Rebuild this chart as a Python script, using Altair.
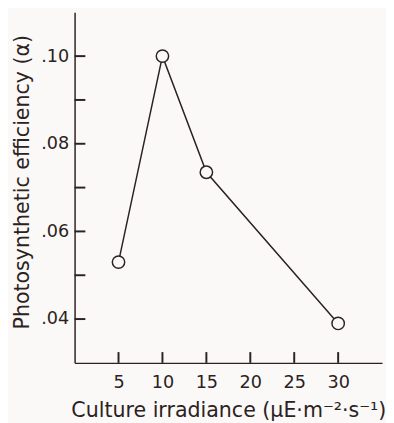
import altair as alt
import pandas as pd

irradiance = [5, 10, 15, 30]
efficiency = [0.053, 0.100, 0.0735, 0.039]

y_tick_values = [0.04, 0.05, 0.06, 0.07, 0.08, 0.09, 0.10]
y_label_values = [0.04, 0.06, 0.08, 0.10]
x_tick_values = [5, 10, 15, 20, 25, 30]

INK = "#2b2222"
BG = "#fbf9f7"
W, H = 314, 358
FONT = "DejaVu Sans"
TICK = 11

df = pd.DataFrame({"x": irradiance, "y": efficiency})
yt = pd.DataFrame({"yv": y_tick_values})
xt = pd.DataFrame({"xv": x_tick_values})

xscale = alt.Scale(domain=[0, 35], nice=False, zero=False)
yscale = alt.Scale(domain=[0.03, 0.11], nice=False, zero=False)

xaxis = alt.Axis(
    values=x_tick_values, ticks=False, grid=False,
    labelPadding=11, labelFontSize=18, labelFont=FONT, labelColor=INK,
    domainColor=INK, domainWidth=1.5,
    title="Culture irradiance (μE·m⁻²·s⁻¹)", titleFontSize=21, titleFont=FONT,
    titleFontWeight="normal", titleColor=INK, titlePadding=9,
)
yaxis = alt.Axis(
    values=y_label_values, ticks=False, grid=False,
    labelPadding=6, labelFontSize=18, labelFont=FONT, labelColor=INK,
    labelExpr="replace(format(datum.value, '.2f'), '0.', '.')",
    domainColor=INK, domainWidth=1.5,
    title="Photosynthetic efficiency (α)", titleFontSize=21, titleFont=FONT,
    titleFontWeight="normal", titleColor=INK, titlePadding=8, titleY=173,
)

line = alt.Chart(df).mark_line(color=INK, strokeWidth=1.5).encode(
    x=alt.X("x:Q", scale=xscale, axis=xaxis),
    y=alt.Y("y:Q", scale=yscale, axis=yaxis),
)
# inward-pointing ticks
yticks = alt.Chart(yt).mark_rule(color=INK, strokeWidth=2).encode(
    y=alt.Y("yv:Q", scale=yscale),
    x=alt.value(0),
    x2=alt.value(TICK),
)
xticks = alt.Chart(xt).mark_rule(color=INK, strokeWidth=2).encode(
    x=alt.X("xv:Q", scale=xscale),
    y=alt.value(H),
    y2=alt.value(H - TICK),
)
points = alt.Chart(df).mark_point(
    shape="circle", size=160, filled=True, fill=BG, stroke=INK, strokeWidth=1.5, opacity=1
).encode(
    x=alt.X("x:Q", scale=xscale),
    y=alt.Y("y:Q", scale=yscale),
)

chart = alt.layer(line, yticks, xticks, points).properties(
    width=W, height=H,
    autosize=alt.AutoSizeParams(type="none"),
    padding={"left": 68, "top": 0, "right": 4, "bottom": 57},
    background=BG,
).configure_view(stroke=None)

chart.save("out.html", embed_options={"renderer": "svg", "actions": False})
